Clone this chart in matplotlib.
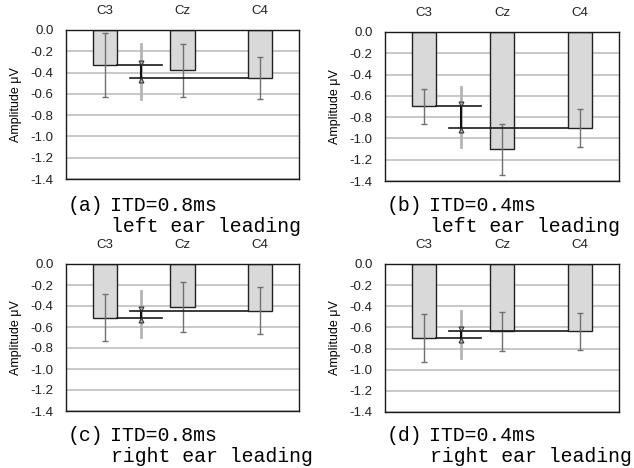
import numpy as np
import matplotlib
matplotlib.use("Agg")
import matplotlib.pyplot as plt

# electrode sites and values (uV) per condition (a)-(d)
sites = ["C3", "Cz", "C4"]
c3 = [-0.33, -0.70, -0.51, -0.70]
cz = [-0.38, -1.10, -0.41, -0.635]
c4 = [-0.45, -0.90, -0.445, -0.635]
c3_err = [0.30, 0.165, 0.22, 0.23]
cz_err = [0.25, 0.24, 0.24, 0.185]
c4_err = [0.20, 0.18, 0.225, 0.175]
diff_err = [0.255, 0.285, 0.22, 0.22]

tags = ["(a)", "(b)", "(c)", "(d)"]
itd = ["ITD=0.8ms", "ITD=0.4ms", "ITD=0.8ms", "ITD=0.4ms"]
lead = ["left ear leading", "left ear leading", "right ear leading", "right ear leading"]
yticks = np.arange(0, -1.41, -0.2)

W, H = 634, 468
fig = plt.figure(figsize=(W / 100, H / 100), dpi=100)

# axes boxes in pixels: left, right, top, bottom
boxes = [(66, 299, 30, 179), (385, 619, 32, 181),
         (66, 299, 264, 411), (385, 619, 264, 412)]

bw = 0.31
xd = 0.47
for i, (l, r, t, b) in enumerate(boxes):
    ax = fig.add_axes([l / W, 1 - b / H, (r - l) / W, (b - t) / H])
    vals = [c3[i], cz[i], c4[i]]
    errs = [c3_err[i], cz_err[i], c4_err[i]]
    x = np.arange(3)

    ax.set_axisbelow(True)
    ax.yaxis.grid(True, color="#c4c4c4", lw=1.3)
    ax.bar(x, vals, width=bw, color="#d9d9d9", edgecolor="#222222", lw=1.0, zorder=2)
    ax.errorbar(x, vals, yerr=errs, fmt="none", ecolor="#707070", elinewidth=1.0,
                capsize=2, capthick=1.0, zorder=3)

    # C3 vs C4 comparison
    mid = (c3[i] + c4[i]) / 2
    ax.plot([xd, xd], [mid + diff_err[i], mid - diff_err[i]], color="#b4b4b4", lw=2, zorder=3)
    ax.plot([bw / 2, 0.73], [c3[i], c3[i]], color="#1a1a1a", lw=1.2, zorder=4)
    ax.plot([0.32, 2 - bw / 2], [c4[i], c4[i]], color="#1a1a1a", lw=1.2, zorder=4)
    hi, lo = max(c3[i], c4[i]), min(c3[i], c4[i])
    ax.plot([xd, xd], [hi, lo], color="#111111", lw=1.5, zorder=5)
    ax.plot([xd], [hi + 0.02], marker="v", ms=3.5, mfc="none", mec="#333333", mew=0.8, zorder=5)
    ax.plot([xd], [lo - 0.02], marker="^", ms=3.5, mfc="none", mec="#333333", mew=0.8, zorder=5)

    ax.set_xlim(-0.5, 2.5)
    ax.set_ylim(-1.4, 0)
    ax.set_yticks(yticks)
    ax.set_yticklabels([f"{v:.1f}" if abs(v) > 1e-9 else "0.0" for v in yticks])
    ax.xaxis.tick_top()
    ax.set_xticks(x)
    ax.set_xticklabels(sites)
    ax.tick_params(length=0, labelsize=9.5, pad=9, labelcolor="#222222",
                   labelfontfamily="Liberation Sans")
    ax.tick_params(axis="x", pad=9)
    for s in ax.spines.values():
        s.set_color("#1a1a1a")
        s.set_linewidth(1.0)
    ax.set_ylabel("Amplitude \u03bcV", fontsize=9, family="Liberation Sans")
    ax.yaxis.set_label_coords(-44 / (r - l), 0.5)

    # caption under each panel
    base = 211 if i < 2 else 441
    fig.text((l + 2) / W, 1 - base / H, tags[i], fontsize=14.3, family="Liberation Mono",
             va="baseline")
    fig.text((l + 44) / W, 1 - base / H, itd[i], fontsize=14.3, family="Liberation Mono",
             va="baseline")
    fig.text((l + 45) / W, 1 - (base + 21) / H, lead[i], fontsize=14.3,
             family="Liberation Mono", va="baseline")

fig.savefig("out.png", dpi=100)
